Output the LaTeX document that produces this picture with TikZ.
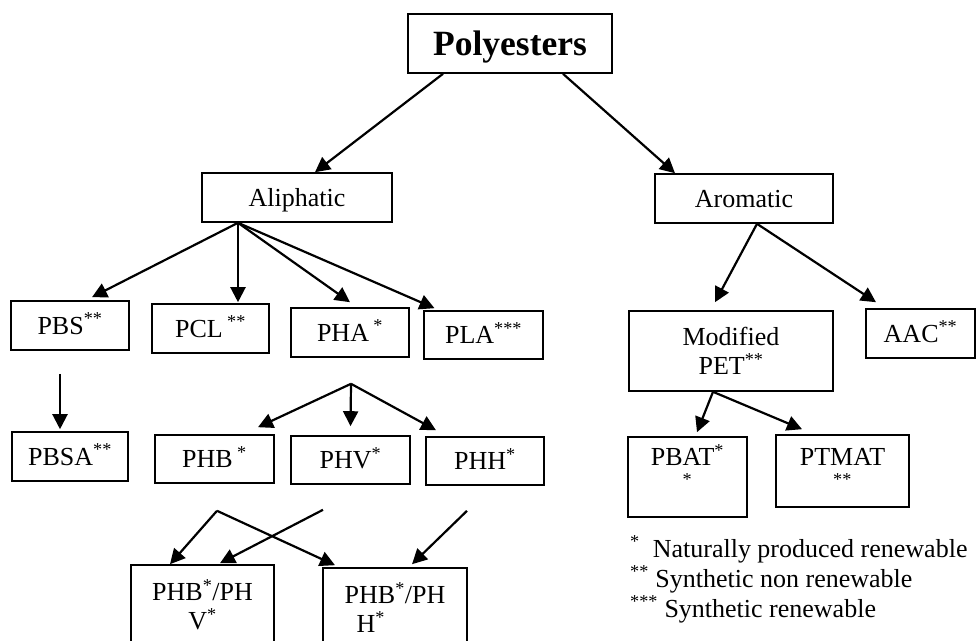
\documentclass[tikz,border=0pt]{standalone}
\usepackage{fontspec}
\setmainfont{Liberation Serif}
\usetikzlibrary{arrows.meta}

\tikzset{
    chem_box/.style={draw,line width=1.6pt,inner sep=0,align=center,font=\fontsize{26}{29}\selectfont},
    flat_box/.style={chem_box,text height=17pt,text depth=0pt},
    chem_arrow/.style={line width=2.2pt,-{Triangle[length=15pt,width=15pt]}},
    legend_text/.style={anchor=base west,inner sep=0,font=\fontsize{26}{29}\selectfont}
}

\begin{document}
\begin{tikzpicture}[x=1pt,y=-1pt]
    \useasboundingbox (0,0) rectangle (977,640);
    \node[flat_box,text height=24pt,minimum width=204pt,minimum height=59pt,font=\fontsize{35.5}{40}\selectfont\bfseries] (poly_box) at (510,43.5) {Polyesters};
    \node[flat_box,minimum width=190pt,minimum height=49pt] (aliph_box) at (297,197.5) {Aliphatic};
    \node[flat_box,minimum width=178pt,minimum height=49pt] (arom_box) at (744,198.5) {Aromatic};
    \node[flat_box,minimum width=118pt,minimum height=49pt] (pbs_box) at (70,325.5) {PBS\textsuperscript{**}};
    \node[flat_box,minimum width=117pt,minimum height=49pt] (pcl_box) at (210.5,328.5) {PCL\,\textsuperscript{**}};
    \node[flat_box,minimum width=118pt,minimum height=49pt] (pha_box) at (350,332.5) {PHA\,\textsuperscript{*}};
    \node[flat_box,minimum width=119pt,minimum height=48pt] (pla_box) at (483.5,335) {PLA\textsuperscript{***}};
    \node[flat_box,minimum width=116pt,minimum height=49pt] (pbsa_box) at (70,456.5) {PBSA\textsuperscript{**}};
    \node[flat_box,minimum width=119pt,minimum height=48pt] (phb_box) at (214.5,459) {PHB\,\textsuperscript{*}};
    \node[flat_box,minimum width=119pt,minimum height=48pt] (phv_box) at (350.5,460) {PHV\textsuperscript{*}};
    \node[flat_box,minimum width=118pt,minimum height=48pt] (phh_box) at (485,461) {PHH\textsuperscript{*}};
    \node[chem_box,minimum width=143pt,minimum height=80pt] (phbv_box) at (202.5,605) {PHB\textsuperscript{*}/PH\\V\textsuperscript{*}};
    \node[chem_box,align=left,minimum width=144pt,minimum height=80pt] (phbh_box) at (395,608) {PHB\textsuperscript{*}/PH\\\hspace*{12pt}H\textsuperscript{*}};
    \node[chem_box,minimum width=204pt,minimum height=80pt] (pet_box) at (731,351) {Modified\\PET\textsuperscript{**}};
    \node[flat_box,minimum width=109pt,minimum height=49pt] (aac_box) at (920.5,333.5) {AAC\textsuperscript{**}};
    \node[chem_box,minimum width=119pt,minimum height=80pt] (pbat_box) at (687.5,477) {PBAT\textsuperscript{*}\\\textsuperscript{*}\\[-15pt]\mbox{}};
    \node[chem_box,minimum width=133pt,minimum height=72pt] (ptmat_box) at (842.5,471) {PTMAT\\\textsuperscript{**}};

    \node[legend_text] (note_one) at (630,557) {\textsuperscript{*}\ \ Naturally produced renewable};
    \node[legend_text] (note_two) at (630,587) {\textsuperscript{**}\ Synthetic non renewable};
    \node[legend_text] (note_three) at (630,617) {\textsuperscript{***}\ Synthetic renewable};

    \coordinate (aliph_fork) at ([xshift=-59pt]aliph_box.south);
    \coordinate (pbs_out) at ([xshift=-10pt,yshift=-23pt]pbs_box.south);
    \coordinate (pha_fork) at ([xshift=1pt,yshift=-26pt]pha_box.south);
    \coordinate (phb_out) at ([xshift=2.5pt,yshift=-27pt]phb_box.south);
    \coordinate (phv_out) at ([xshift=-27.5pt,yshift=-25pt]phv_box.south);
    \coordinate (phh_out) at ([xshift=-18pt,yshift=-25pt]phh_box.south);
    \coordinate (arom_fork) at ([xshift=13pt]arom_box.south);
    \coordinate (pet_fork) at ([xshift=-18pt]pet_box.south);

    \draw[chem_arrow] ([xshift=-67pt]poly_box.south) -- ([xshift=18pt]aliph_box.north);
    \draw[chem_arrow] ([xshift=53pt]poly_box.south) -- ([xshift=-69pt]arom_box.north);
    \draw[chem_arrow] (aliph_fork) -- ([xshift=22pt,yshift=3pt]pbs_box.north);
    \draw[chem_arrow] (aliph_fork) -- ([xshift=27.5pt,yshift=1pt]pcl_box.north);
    \draw[chem_arrow] (aliph_fork) -- ([yshift=5pt]pha_box.north);
    \draw[chem_arrow] (aliph_fork) -- ([xshift=-49pt,yshift=2pt]pla_box.north);
    \draw[chem_arrow] (pbs_out) -- ([xshift=-10pt,yshift=2pt]pbsa_box.north);
    \draw[chem_arrow] (pha_fork) -- ([xshift=43.5pt,yshift=7pt]phb_box.north);
    \draw[chem_arrow] (pha_fork) -- ([yshift=9pt]phv_box.north);
    \draw[chem_arrow] (pha_fork) -- ([xshift=-49pt,yshift=6pt]phh_box.north);
    \draw[chem_arrow] (phb_out) -- ([xshift=-32.5pt]phbv_box.north);
    \draw[chem_arrow] (phb_out) -- ([xshift=-60pt,yshift=2pt]phbh_box.north);
    \draw[chem_arrow] (phv_out) -- ([xshift=17.5pt,yshift=1pt]phbv_box.north);
    \draw[chem_arrow] (phh_out) -- ([xshift=17pt,yshift=3pt]phbh_box.north);
    \draw[chem_arrow] (arom_fork) -- ([xshift=-16pt,yshift=8pt]pet_box.north);
    \draw[chem_arrow] (arom_fork) -- ([xshift=-44.5pt,yshift=6pt]aac_box.north);
    \draw[chem_arrow] (pet_fork) -- ([xshift=9.5pt,yshift=4pt]pbat_box.north);
    \draw[chem_arrow] (pet_fork) -- ([xshift=-40.5pt,yshift=5pt]ptmat_box.north);
  \end{tikzpicture}
\end{document}
